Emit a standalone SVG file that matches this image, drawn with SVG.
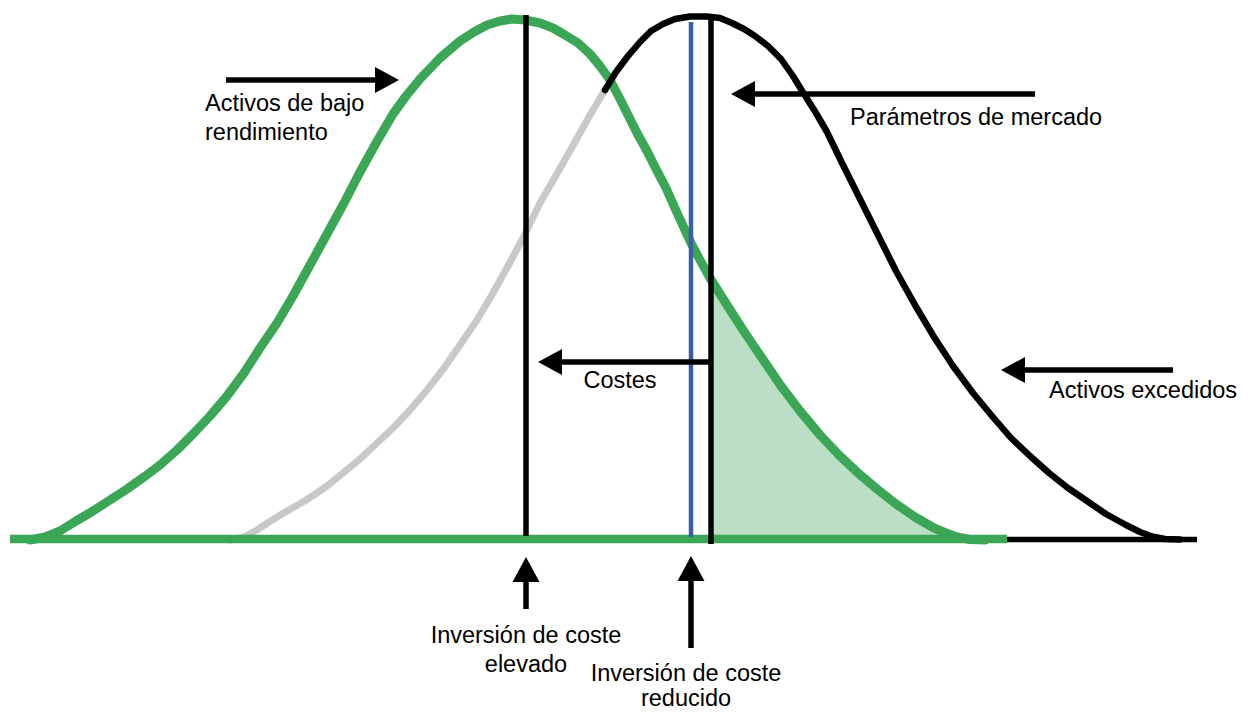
<svg xmlns="http://www.w3.org/2000/svg" width="1248" height="713" viewBox="0 0 1248 713">
<style>
.lbl{font-family:"Liberation Sans",Arial,sans-serif;font-size:23.5px;fill:#000}
.mid{text-anchor:middle}
.crv{fill:none;stroke-linejoin:round;stroke-linecap:round}
.arr{stroke:#000;stroke-width:5.5;fill:none}
.head{fill:#000}
</style>
<rect width="1248" height="713" fill="#fff"/>
<g id="curves">
<polyline id="gray-curve" class="crv" stroke="#c8c8c8" stroke-width="7" points="605,90 590,115 575,142 558,172 540,203 523,238 508,266 493,293 477,320 460,345 444,368 427,390 410,410 393,428 376,444 360,459 343,473 327,486 311,497 296,506 282,514 269,522 257,530 244,537 230,540"/>
<polygon id="tail-fill" fill="#badfc5" points="711,280 727,305 743,330 762,358 781,386 800,411 820,435 839,455 858,473 877,489 896,504 915,517 934,528 957,537 975,540 711,540"/>
<polyline id="green-curve" class="crv" stroke="#3aa656" stroke-width="9" points="30,540 45,537 60,531 76,521 93,511 110,500 127,489 144,477 160,465 177,450 193,434 210,416 227,396 244,373 260,348 277,323 293,296 310,265 327,234 344,203 360,172 376,143 393,114 406,96 420,79 440,58 460,41 474,32 487,25 500,21 512,19 525,20 540,23 553,28 565,35 578,43 590,54 600,66 610,80 619,97 628,115 637,133 647,151 656,169 666,188 678,215 691,243 700,260 710,278 727,305 743,330 762,358 781,386 800,411 820,435 839,455 858,473 877,489 896,504 915,517 934,528 946,533 957,537 970,539.5 985,540"/>
<line id="baseline-green" x1="10" y1="539" x2="1007" y2="539" stroke="#3aa656" stroke-width="8.5"/>
<line id="baseline-black" x1="1007" y1="539.5" x2="1197" y2="539.5" stroke="#000" stroke-width="5.5"/>
<polyline id="black-curve" class="crv" stroke="#000" stroke-width="6.5" points="605,90 616,72 628,56 640,42 651,31 663,24 675,19 690,16.5 707,16.5 720,18 732,23 744,29 755,36 768,46 781,59 793,76 804,94 816,113 827,132 842,163 858,195 877,233 896,271 915,305 934,337 953,366 973,393 992,416 1011,438 1030,456 1049,473 1068,488 1087,501 1106,514 1126,525 1140,532 1152,536.5 1165,539 1180,539.5"/>
</g>
<g id="markers-lines">
<line id="blue-line" x1="691" y1="22" x2="691" y2="537" stroke="#3c5ea8" stroke-width="4.5"/>
<line id="line-high" x1="526" y1="15" x2="526" y2="536" stroke="#000" stroke-width="5.5"/>
<line id="line-market" x1="711" y1="18" x2="711" y2="544" stroke="#000" stroke-width="5.5"/>
</g>
<g id="connectors">
<line class="arr" x1="226" y1="80" x2="380" y2="80"/>
<polygon class="head" points="399,80 375,67 375,93"/>
<line class="arr" x1="1035" y1="94" x2="750" y2="94"/>
<polygon class="head" points="731,94 755,81 755,107"/>
<line class="arr" x1="711" y1="362" x2="556" y2="362"/>
<polygon class="head" points="538,362 562,349 562,375"/>
<line class="arr" x1="1173" y1="370" x2="1020" y2="370"/>
<polygon class="head" points="1001,370 1025,357 1025,383"/>
<line class="arr" x1="526" y1="609" x2="526" y2="576"/>
<polygon class="head" points="526,557 512.5,582 539.5,582"/>
<line class="arr" x1="691" y1="648" x2="691" y2="575"/>
<polygon class="head" points="691,556 677.5,581 704.5,581"/>
</g>
<g id="label-bajo"><text class="lbl" x="205" y="111">Activos de bajo</text><text class="lbl" x="205" y="140">rendimiento</text></g>
<g id="label-parametros"><text class="lbl" x="850" y="125">Parámetros de mercado</text></g>
<g id="label-costes"><text class="lbl mid" x="620" y="388">Costes</text></g>
<g id="label-excedidos"><text class="lbl" x="1049" y="398">Activos excedidos</text></g>
<g id="label-elevado"><text class="lbl mid" x="526" y="643">Inversión de coste</text><text class="lbl mid" x="526" y="672">elevado</text></g>
<g id="label-reducido"><text class="lbl mid" x="686" y="681">Inversión de coste</text><text class="lbl mid" x="686" y="706">reducido</text></g>
</svg>
